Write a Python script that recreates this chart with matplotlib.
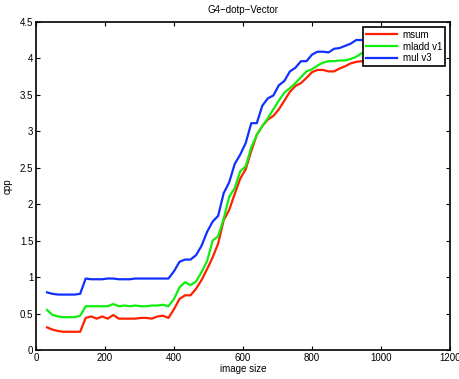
import numpy as np
import matplotlib
matplotlib.use("Agg")
import matplotlib.pyplot as plt

# image size grid (shared by all series)
image_size = np.arange(32, 1025, 16)

msum = [0.31, 0.28, 0.26, 0.25, 0.25, 0.25, 0.25, 0.44, 0.46, 0.43,
        0.46, 0.43, 0.48, 0.43, 0.43, 0.43, 0.43, 0.44, 0.44, 0.43,
        0.46, 0.47, 0.44, 0.56, 0.70, 0.75, 0.75, 0.84, 0.96, 1.11,
        1.27, 1.46, 1.78, 1.92, 2.14, 2.35, 2.48, 2.73, 2.95, 3.07,
        3.16, 3.21, 3.30, 3.42, 3.54, 3.62, 3.66, 3.73, 3.81, 3.84,
        3.84, 3.82, 3.82, 3.86, 3.89, 3.93, 3.95, 3.96, 3.96, 3.96,
        3.96, 3.95, 3.95]

mladd_v1 = [0.55, 0.48, 0.46, 0.45, 0.45, 0.45, 0.47, 0.60, 0.60, 0.60,
            0.60, 0.60, 0.63, 0.60, 0.61, 0.60, 0.61, 0.60, 0.60, 0.61,
            0.61, 0.62, 0.60, 0.70, 0.86, 0.93, 0.89, 0.94, 1.07, 1.22,
            1.50, 1.56, 1.80, 2.10, 2.22, 2.45, 2.52, 2.78, 2.95, 3.07,
            3.18, 3.30, 3.42, 3.53, 3.59, 3.66, 3.74, 3.82, 3.85, 3.90,
            3.94, 3.96, 3.96, 3.97, 3.97, 3.99, 4.02, 4.07, 4.06, 4.06,
            4.06, 4.06, 4.06]

mul_v3 = [0.79, 0.77, 0.76, 0.76, 0.76, 0.76, 0.77, 0.98, 0.97, 0.97,
          0.97, 0.98, 0.98, 0.97, 0.97, 0.97, 0.98, 0.98, 0.98, 0.98,
          0.98, 0.98, 0.98, 1.08, 1.21, 1.24, 1.24, 1.30, 1.43, 1.62,
          1.76, 1.84, 2.15, 2.30, 2.55, 2.68, 2.84, 3.11, 3.11, 3.35,
          3.45, 3.49, 3.63, 3.69, 3.82, 3.87, 3.96, 3.96, 4.05, 4.09,
          4.09, 4.08, 4.13, 4.14, 4.17, 4.20, 4.25, 4.25, 4.25, 4.25,
          4.25, 4.25, 4.25]

labels = ["msum", "mladd v1", "mul v3"]
colors = ["#ff2000", "#10ee10", "#1030ff"]

plt.rcParams["font.family"] = ["Liberation Sans", "DejaVu Sans"]
plt.rcParams["font.size"] = 7

fig = plt.figure(figsize=(4.59, 3.79), dpi=100)
ax = fig.add_axes([0.0784, 0.0765, 0.902, 0.866])

for ys, lab, col in zip([msum, mladd_v1, mul_v3], labels, colors):
    ax.plot(image_size, ys, color=col, linewidth=1.6, label=lab)

ax.set_xlim(0, 1200)
ax.set_ylim(0, 4.5)
ax.set_xticks(np.arange(0, 1201, 200))
ax.set_yticks(np.arange(0, 4.6, 0.5))
ax.set_yticklabels(["0", "0.5", "1", "1.5", "2", "2.5", "3", "3.5", "4", "4.5"])
ax.tick_params(direction="in", top=True, right=True, length=3, width=0.8, pad=2)
for sp in ax.spines.values():
    sp.set_linewidth(1.2)

ax.set_title("G4\u2212dotp\u2212Vector", fontsize=7, pad=6)
ax.set_xlabel("image size", labelpad=1)
ax.set_ylabel("cpp", labelpad=5)

leg = ax.legend(loc="upper right", fancybox=False, framealpha=1,
                edgecolor="black", handlelength=3.2, borderaxespad=0.5,
                borderpad=0.3, labelspacing=0.2, handletextpad=0.6)
leg.get_frame().set_linewidth(1.2)

fig.savefig("out.png", dpi=100)
